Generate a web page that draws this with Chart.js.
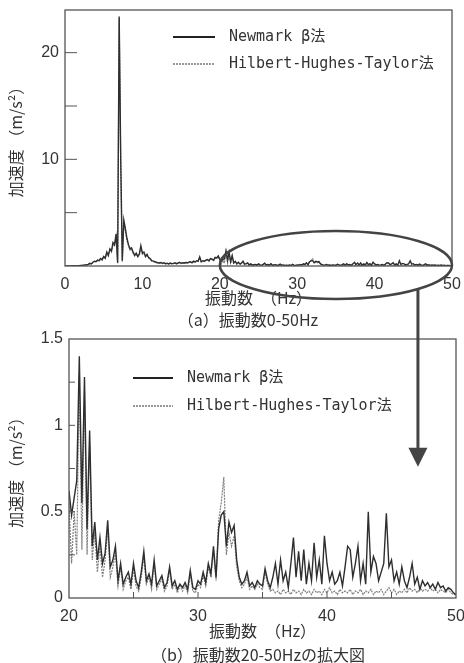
<!DOCTYPE html>
<html>
<head>
<meta charset="utf-8">
<script src="https://cdn.jsdelivr.net/npm/chart.js@4.4.1/dist/chart.umd.min.js"></script>
<style>
    html, body { margin: 0; padding: 0; background: #fff; }
    #wrap { position: relative; width: 464px; height: 663px; }
    #wrap canvas { position: absolute; left: 0; }
    #topChart { top: 0; }
    #bottomChart { top: 325px; }
    #overlay { top: 0; z-index: 2; pointer-events: none; }
</style>
</head>
<body>
<div id="wrap">
    <canvas id="topChart" width="464" height="334"></canvas>
    <canvas id="bottomChart" width="464" height="338"></canvas>
    <canvas id="overlay" width="464" height="663"></canvas>
</div>
<script>
// frequency grid step (Hz)
const STEP = 0.2;

// 0 - 19.8 Hz (used in chart (a) only)
const newmarkLow = [
    0.00, 0.00, 0.00, 0.01, 0.01, 0.02, 0.02, 0.03, 0.03, 0.04,
    0.05, 0.06, 0.08, 0.10, 0.12, 0.15, 0.25, 0.20, 0.35, 0.45,
    0.40, 0.55, 0.50, 0.70, 0.60, 0.90, 0.75, 1.30, 1.00, 1.60,
    1.40, 2.20, 2.00, 3.00, 0.30, 23.4, 10.0, 0.50, 4.30, 3.50,
    2.60, 2.00, 1.60, 1.70, 1.30, 1.00, 1.20, 0.90, 1.10, 1.90,
    1.20, 1.30, 0.90, 1.10, 0.80, 0.70, 0.50, 0.45, 0.40, 0.35,
    0.30, 0.28, 0.32, 0.25, 0.30, 0.22, 0.26, 0.20, 0.28, 0.22,
    0.25, 0.30, 0.22, 0.28, 0.35, 0.25, 0.30, 0.28, 0.33, 0.30,
    0.35, 0.40, 0.30, 0.45, 0.38, 0.50, 0.45, 0.85, 0.40, 0.50,
    0.45, 0.55, 0.60, 0.50, 0.70, 0.65, 0.55, 0.80, 0.75, 0.95
];
const hhtLow = [
    0.00, 0.00, 0.00, 0.00, 0.01, 0.01, 0.02, 0.02, 0.03, 0.03,
    0.04, 0.05, 0.07, 0.09, 0.11, 0.14, 0.22, 0.18, 0.32, 0.42,
    0.38, 0.50, 0.48, 0.65, 0.55, 0.85, 0.70, 1.20, 0.95, 1.50,
    1.30, 2.00, 1.90, 2.80, 0.25, 23.2, 9.50, 0.40, 4.00, 3.30,
    2.40, 1.90, 1.50, 1.60, 1.20, 0.95, 1.10, 0.85, 1.00, 1.80,
    1.10, 1.20, 0.85, 1.00, 0.75, 0.65, 0.48, 0.42, 0.38, 0.32,
    0.28, 0.26, 0.30, 0.23, 0.28, 0.20, 0.24, 0.18, 0.26, 0.20,
    0.23, 0.28, 0.20, 0.26, 0.32, 0.23, 0.28, 0.26, 0.30, 0.28,
    0.32, 0.38, 0.28, 0.42, 0.35, 0.46, 0.42, 0.80, 0.38, 0.46,
    0.42, 0.50, 0.56, 0.46, 0.65, 0.60, 0.50, 0.75, 0.70, 0.90
];

// 20 - 50 Hz (chart (b), also the tail of chart (a))
const newmarkZoom = [
    0.62, 0.48, 0.58, 0.68, 1.40, 0.55, 1.28, 0.40, 0.97, 0.30,
    0.44, 0.22, 0.35, 0.20, 0.26, 0.45, 0.18, 0.22, 0.30, 0.10,
    0.20, 0.08, 0.12, 0.15, 0.08, 0.20, 0.10, 0.06, 0.15, 0.27,
    0.10, 0.14, 0.08, 0.22, 0.07, 0.10, 0.13, 0.06, 0.09, 0.18,
    0.07, 0.10, 0.05, 0.08, 0.06, 0.09, 0.05, 0.16, 0.06, 0.05,
    0.10, 0.08, 0.15, 0.09, 0.20, 0.14, 0.30, 0.12, 0.40, 0.48,
    0.50, 0.30, 0.44, 0.38, 0.42, 0.22, 0.12, 0.08, 0.10, 0.15,
    0.07, 0.09, 0.06, 0.10, 0.08, 0.07, 0.17, 0.10, 0.06, 0.12,
    0.20, 0.08, 0.22, 0.10, 0.15, 0.06, 0.20, 0.35, 0.12, 0.27,
    0.10, 0.28, 0.08, 0.20, 0.10, 0.32, 0.12, 0.22, 0.08, 0.36,
    0.20, 0.10, 0.15, 0.08, 0.10, 0.15, 0.07, 0.18, 0.30, 0.28,
    0.12, 0.20, 0.30, 0.10, 0.20, 0.08, 0.50, 0.15, 0.24, 0.20,
    0.10, 0.15, 0.20, 0.49, 0.18, 0.22, 0.10, 0.15, 0.08, 0.18,
    0.10, 0.06, 0.12, 0.20, 0.08, 0.12, 0.05, 0.10, 0.07, 0.09,
    0.06, 0.08, 0.05, 0.09, 0.06, 0.07, 0.04, 0.06, 0.05, 0.03,
    0.02
];
const hhtZoom = [
    0.55, 0.20, 0.50, 0.25, 1.30, 0.28, 1.20, 0.25, 0.90, 0.22,
    0.38, 0.15, 0.30, 0.12, 0.22, 0.40, 0.12, 0.18, 0.26, 0.07,
    0.18, 0.05, 0.10, 0.12, 0.05, 0.17, 0.07, 0.04, 0.12, 0.24,
    0.08, 0.12, 0.05, 0.20, 0.05, 0.08, 0.11, 0.04, 0.07, 0.16,
    0.05, 0.08, 0.03, 0.07, 0.04, 0.07, 0.03, 0.14, 0.04, 0.03,
    0.08, 0.06, 0.13, 0.07, 0.18, 0.12, 0.27, 0.10, 0.45, 0.55,
    0.70, 0.25, 0.38, 0.30, 0.36, 0.18, 0.10, 0.06, 0.08, 0.12,
    0.05, 0.07, 0.05, 0.08, 0.06, 0.05, 0.15, 0.08, 0.04, 0.05,
    0.03, 0.04, 0.02, 0.05, 0.03, 0.04, 0.02, 0.05, 0.03, 0.04,
    0.02, 0.05, 0.03, 0.04, 0.02, 0.05, 0.03, 0.04, 0.02, 0.05,
    0.03, 0.06, 0.03, 0.04, 0.02, 0.05, 0.03, 0.04, 0.03, 0.05,
    0.02, 0.04, 0.03, 0.05, 0.02, 0.04, 0.03, 0.05, 0.02, 0.04,
    0.03, 0.05, 0.02, 0.04, 0.06, 0.03, 0.05, 0.02, 0.04, 0.03,
    0.05, 0.03, 0.06, 0.04, 0.05, 0.03, 0.06, 0.04, 0.05, 0.04,
    0.06, 0.04, 0.05, 0.03, 0.05, 0.04, 0.03, 0.05, 0.03, 0.02,
    0.02
];

const seriesLabels = ['Newmark β法', 'Hilbert-Hughes-Taylor法'];
const yTitle = '加速度 （m/s²）';
const xTitle = '振動数　（Hz）';
const captions = ['（a）振動数0-50Hz', '（b）振動数20-50Hzの拡大図'];
const topYLabels = [10, 20];
const bottomXLabels = [20, 30, 40, 50];

const toPoints = (start, values) =>
    values.map((v, i) => ({ x: Math.round((start + i * STEP) * 10) / 10, y: v }));

const NUM_FONT = { family: "'Liberation Sans', Arial, sans-serif", size: 16 };
const JP_FONT = { family: "'Noto Sans CJK JP', sans-serif", size: 16 };
const LEG_FONT = "15px 'DejaVu Sans Mono', 'Noto Sans CJK JP', monospace";

const datasetStyle = [
    { borderColor: '#2e2e2e', borderWidth: 1.4, borderDash: [] },
    { borderColor: '#808080', borderWidth: 1.2, borderDash: [2, 1] }
];

// frame, inward ticks, legend and caption
const decorPlugin = {
    id: 'decor',
    afterDraw(chart, args, opts) {
        const ctx = chart.ctx;
        const a = chart.chartArea;
        ctx.save();
        ctx.strokeStyle = '#555';
        ctx.lineWidth = 1.3;
        ctx.strokeRect(a.left, a.top, a.right - a.left, a.bottom - a.top);

        ctx.lineWidth = 1;
        const ys = chart.scales.y;
        ys.ticks.forEach(t => {
            if (t.value % opts.yTickStep > 1e-9 || t.value <= ys.min || t.value >= ys.max) return;
            const py = ys.getPixelForValue(t.value);
            ctx.beginPath();
            ctx.moveTo(a.left, py);
            ctx.lineTo(a.left + opts.tickLen, py);
            ctx.stroke();
        });
        if (opts.xTicks) {
            const xs = chart.scales.x;
            xs.ticks.forEach(t => {
                if (t.value <= xs.min || t.value >= xs.max) return;
                const px = xs.getPixelForValue(t.value);
                ctx.beginPath();
                ctx.moveTo(px, a.bottom);
                ctx.lineTo(px, a.bottom - opts.tickLen);
                ctx.stroke();
            });
        }

        // legend inside plot
        ctx.font = LEG_FONT;
        ctx.textBaseline = 'middle';
        ctx.fillStyle = '#333';
        chart.data.datasets.forEach((ds, i) => {
            const y = a.top + opts.legY + i * opts.legRow;
            ctx.beginPath();
            ctx.strokeStyle = i === 0 ? '#222' : '#999';
            ctx.lineWidth = 2;
            ctx.setLineDash(i === 0 ? [] : [2, 1]);
            ctx.moveTo(a.left + opts.legX, y);
            ctx.lineTo(a.left + opts.legX + opts.legLen, y);
            ctx.stroke();
            ctx.setLineDash([]);
            ctx.fillText(ds.label, a.left + opts.legX + opts.legLen + 14, y);
        });

        // caption
        ctx.font = "16px 'Noto Sans CJK JP', sans-serif";
        ctx.textAlign = 'center';
        ctx.fillText(opts.caption, opts.capX, chart.height - opts.capDy);
        ctx.restore();
    }
};

function makeConfig(newmark, hht, xr, yr, extra) {
    return {
        type: 'line',
        data: {
            datasets: [newmark, hht].map((d, i) => ({
                label: seriesLabels[i],
                data: d,
                ...datasetStyle[i],
                pointRadius: 0,
                tension: 0,
                fill: false
            }))
        },
        options: {
            responsive: false,
            animation: false,
            events: [],
            layout: { padding: extra.padding },
            plugins: {
                legend: { display: false },
                tooltip: { enabled: false },
                decor: extra.decor
            },
            scales: {
                x: {
                    type: 'linear',
                    min: xr[0], max: xr[1],
                    grid: { display: false, drawTicks: false },
                    border: { display: false },
                    ticks: {
                        stepSize: extra.xStep,
                        padding: 9,
                        color: '#333',
                        font: NUM_FONT,
                        maxRotation: 0,
                        callback: extra.xLabel
                    },
                    title: { display: true, text: xTitle, color: '#333', font: JP_FONT, padding: { top: 0, bottom: 1 } },
                    afterFit: s => {
                        s.height = extra.xAxisH;
                        s.paddingLeft = 0;
                        s.paddingRight = 0;
                    }
                },
                y: {
                    min: yr[0], max: yr[1],
                    grid: { display: false, drawTicks: false },
                    border: { display: false },
                    ticks: {
                        stepSize: extra.yStep,
                        padding: 6,
                        color: '#333',
                        font: NUM_FONT,
                        callback: extra.yLabel
                    },
                    title: { display: true, text: yTitle, color: '#333', font: JP_FONT, padding: { top: 6, bottom: 0 } },
                    afterFit: s => {
                        s.width = extra.yAxisW;
                        s.paddingTop = 0;
                        s.paddingBottom = 0;
                    }
                }
            }
        },
        plugins: [decorPlugin]
    };
}

const topChart = new Chart(document.getElementById('topChart'), makeConfig(
    toPoints(0, newmarkLow).concat(toPoints(20, newmarkZoom)),
    toPoints(0, hhtLow).concat(toPoints(20, hhtZoom)),
    [0, 50], [0, 24],
    {
        padding: { left: 0, right: 12, top: 10, bottom: 25 },
        xStep: 10, yStep: 5, xAxisH: 43, yAxisW: 65,
        xLabel: v => v,
        yLabel: v => (topYLabels.includes(v) ? v : ''),
        decor: { yTickStep: 5, tickLen: 12, xTicks: false, legX: 108, legY: 27, legRow: 27, legLen: 42, caption: captions[0], capX: 248, capDy: 14 }
    }
));

const bottomChart = new Chart(document.getElementById('bottomChart'), makeConfig(
    toPoints(20, newmarkZoom),
    toPoints(20, hhtZoom),
    [20, 50], [0, 1.5],
    {
        padding: { left: 0, right: 8, top: 14, bottom: 21 },
        xStep: 5, yStep: 0.25, xAxisH: 44, yAxisW: 69,
        xLabel: v => (bottomXLabels.includes(v) ? v : ''),
        yLabel: v => (v % 0.5 === 0 ? v : ''),
        decor: { yTickStep: 0.25, tickLen: 6, xTicks: true, legX: 64, legY: 39, legRow: 28, legLen: 40, caption: captions[1], capX: 258, capDy: 8 }
    }
));

// ellipse on (a) marking 20-50 Hz, arrow down to (b)
(function drawOverlay() {
    const ctx = document.getElementById('overlay').getContext('2d');
    const offB = 325;
    const tx = topChart.scales.x, ty = topChart.scales.y;
    const x0 = tx.getPixelForValue(20), x1 = tx.getPixelForValue(50);
    const cx = (x0 + x1) / 2, rx = (x1 - x0) / 2;
    const cy = ty.getPixelForValue(0) - 1, ry = 34;
    ctx.strokeStyle = '#444';
    ctx.lineWidth = 2.5;
    ctx.beginPath();
    ctx.ellipse(cx, cy, rx, ry, 0, 0, Math.PI * 2);
    ctx.stroke();

    const ax = bottomChart.scales.x.getPixelForValue(47.05);
    const dx = (ax - cx) / rx;
    const ay0 = cy + ry * Math.sqrt(Math.max(0, 1 - dx * dx));
    const tip = bottomChart.scales.y.getPixelForValue(0.76) + offB;
    ctx.lineWidth = 3;
    ctx.beginPath();
    ctx.moveTo(ax, ay0);
    ctx.lineTo(ax, tip - 16);
    ctx.stroke();
    ctx.fillStyle = '#444';
    ctx.beginPath();
    ctx.moveTo(ax - 9.5, tip - 19);
    ctx.lineTo(ax + 9.5, tip - 19);
    ctx.lineTo(ax, tip);
    ctx.closePath();
    ctx.fill();
})();
</script>
</body>
</html>
